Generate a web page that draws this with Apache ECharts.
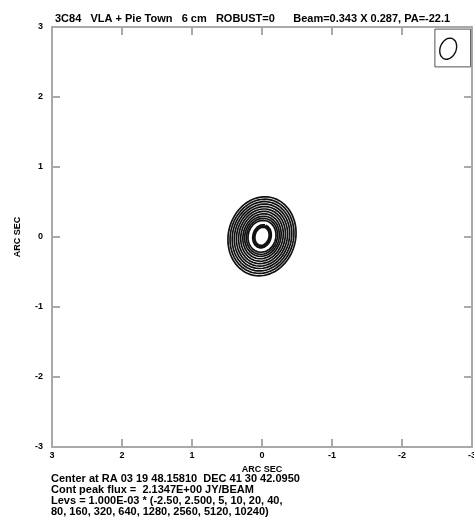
<!DOCTYPE html>
<html>
<head>
<meta charset="utf-8">
<script src="https://cdn.jsdelivr.net/npm/echarts@6/dist/echarts.min.js"></script>
<style>
  html, body { margin: 0; padding: 0; background: #fff; }
  #chart { width: 474px; height: 525px; }
</style>
</head>
<body>
<div id="chart"></div>
<script>
// axis ticks (arc sec)
var tickValues = [3, 2, 1, 0, -1, -2, -3];

// source contours: semi-major / semi-minor (arc sec)
var contourMajor = [0.57, 0.535, 0.50, 0.465, 0.43, 0.395, 0.36, 0.325, 0.29, 0.26, 0.23, 0.168, 0.15, 0.133];
var contourMinor = [0.48, 0.45, 0.42, 0.39, 0.36, 0.33, 0.30, 0.27, 0.245, 0.22, 0.198, 0.13, 0.115, 0.10];
var contourCenter = [0.0, 0.01];
var contourPA = -15;

// beam
var beamMajor = 0.157;
var beamMinor = 0.114;
var beamPA = -22.1;
var beamCenter = [-2.66, 2.69];
var beamBoxX = [-2.47, -2.98];
var beamBoxY = [2.43, 2.97];

var titleText = '3C84   VLA + Pie Town   6 cm   ROBUST=0      Beam=0.343 X 0.287, PA=-22.1';
var footLines = [
    'Center at RA 03 19 48.15810  DEC 41 30 42.0950',
    'Cont peak flux =  2.1347E+00 JY/BEAM',
    'Levs = 1.000E-03 * (-2.50, 2.500, 5, 10, 20, 40,',
    '80, 160, 320, 640, 1280, 2560, 5120, 10240)'
];

// ellipse outline in data space (PA from north through east, east = +x)
function ellipse(c, a, b, pa) {
    var pts = [];
    var r = pa * Math.PI / 180;
    var ux = Math.sin(r), uy = Math.cos(r);
    var vx = Math.cos(r), vy = -Math.sin(r);
    for (var i = 0; i <= 90; i++) {
        var t = i / 90 * 2 * Math.PI;
        var ca = a * Math.cos(t), sb = b * Math.sin(t);
        pts.push([c[0] + ca * ux + sb * vx, c[1] + ca * uy + sb * vy]);
    }
    return pts;
}

function lineSeries(data, w) {
    return {
        type: 'line',
        data: data,
        showSymbol: false,
        silent: true,
        animation: false,
        lineStyle: { color: '#111', width: w },
        xAxisIndex: 0,
        yAxisIndex: 0
    };
}

var series = [];
for (var k = 0; k < contourMajor.length; k++) {
    series.push(lineSeries(ellipse(contourCenter, contourMajor[k], contourMinor[k], contourPA), 1.7));
}
series.push(lineSeries(ellipse(beamCenter, beamMajor, beamMinor, beamPA), 1.4));
var box = [
    [beamBoxX[0], beamBoxY[0]], [beamBoxX[1], beamBoxY[0]],
    [beamBoxX[1], beamBoxY[1]], [beamBoxX[0], beamBoxY[1]],
    [beamBoxX[0], beamBoxY[0]]
];
var boxSeries = lineSeries(box, 1);
boxSeries.lineStyle.color = '#555';
series.push(boxSeries);

var font = 'Liberation Sans';
var frameColor = '#a9a9a9';

function axisBase(pos, showLabel) {
    return {
        type: 'value',
        position: pos,
        min: -3,
        max: 3,
        interval: 1,
        splitLine: { show: false },
        axisLine: { show: true, onZero: false, lineStyle: { color: frameColor, width: 2 } },
        axisTick: { show: true, inside: true, length: 8, lineStyle: { color: frameColor, width: 2 } },
        axisLabel: {
            show: showLabel,
            color: '#000',
            fontFamily: font,
            fontSize: 9,
            fontWeight: 'bold'
        }
    };
}

var xBottom = axisBase('bottom', true);
xBottom.inverse = true;
xBottom.name = 'ARC SEC';
xBottom.nameLocation = 'middle';
xBottom.nameGap = 14;
xBottom.nameTextStyle = { color: '#000', fontFamily: font, fontSize: 9, fontWeight: 'bold' };
xBottom.axisLabel.margin = 4;
var xTop = axisBase('top', false);
xTop.inverse = true;

var yLeft = axisBase('left', true);
yLeft.name = 'ARC SEC';
yLeft.nameLocation = 'middle';
yLeft.nameGap = 30;
yLeft.nameTextStyle = { color: '#000', fontFamily: font, fontSize: 9, fontWeight: 'bold' };
yLeft.axisLabel.margin = 9;
var yRight = axisBase('right', false);

var graphics = [];
for (var i = 0; i < footLines.length; i++) {
    graphics.push({
        type: 'text',
        left: 51,
        top: 473 + i * 11,
        style: { text: footLines[i], fill: '#000', font: 'bold 11px "Liberation Sans"' }
    });
}

var option = {
    backgroundColor: '#fff',
    animation: false,
    title: {
        text: titleText,
        left: 50,
        top: 8,
        textStyle: { color: '#000', fontFamily: font, fontSize: 11, fontWeight: 'bold' }
    },
    grid: { left: 52, right: 2, top: 27, bottom: 78, containLabel: false, outerBoundsMode: 'none' },
    xAxis: [xBottom, xTop],
    yAxis: [yLeft, yRight],
    graphic: graphics,
    series: series
};

var myChart = echarts.init(document.getElementById('chart'), null, { renderer: 'canvas' });
myChart.setOption(option);
</script>
</body>
</html>
